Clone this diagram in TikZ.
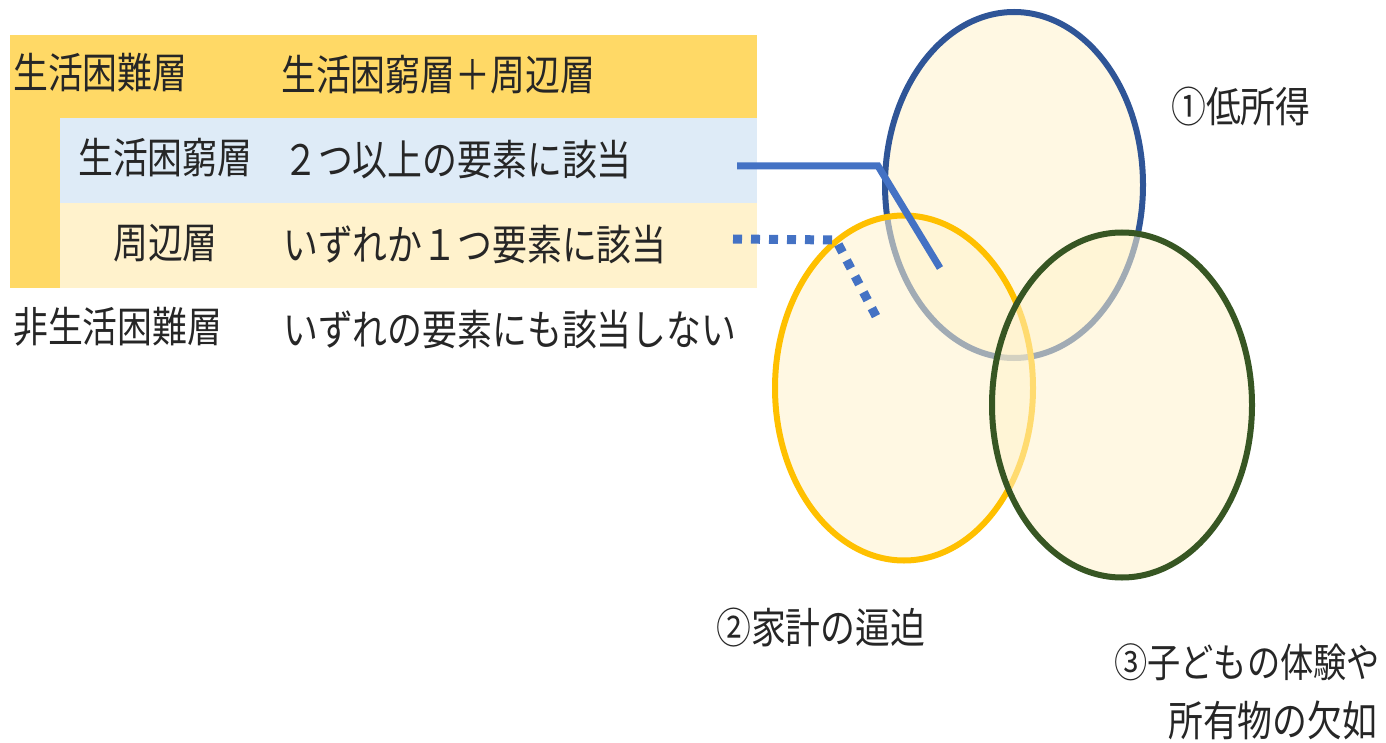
\documentclass[tikz,border=0pt]{standalone}
\usepackage{fontspec}
\usetikzlibrary{shapes.geometric}
\newfontfamily\jp[FakeStretch=0.83]{Noto Sans CJK JP}
\definecolor{gold}{HTML}{FFD966}
\definecolor{lightblue}{HTML}{DEEBF7}
\definecolor{cream}{HTML}{FFF2CC}
\definecolor{linkblue}{HTML}{4472C4}
\definecolor{circblue}{HTML}{2F5597}
\definecolor{circyellow}{HTML}{FFC000}
\definecolor{circgreen}{HTML}{375623}
\begin{document}
\begin{tikzpicture}[x=1pt,y=-1pt,
  lbl/.style={anchor=west,inner sep=0pt,font=\jp\fontsize{42}{48}\selectfont,text=black!85},
  circ/.style={ellipse,line width=6pt,fill=cream,fill opacity=0.55,draw opacity=1,inner sep=0pt},
  conn/.style={draw=linkblue,line width=7pt}]
\useasboundingbox (0,0) rectangle (1386,743);
% table bands
\fill[gold] (10,35) rectangle (757,118);
\fill[gold] (10,118) rectangle (60,288);
\fill[lightblue] (60,118) rectangle (757,203);
\fill[cream] (60,203) rectangle (757,288);
% table texts
\node[lbl] (t1a) at (13,73) {生活困難層};
\node[lbl] (t1b) at (281,75) {生活困窮層＋周辺層};
\node[lbl] (t2a) at (78,158) {生活困窮層};
\node[lbl] (t2b) at (283,160) {２つ以上の要素に該当};
\node[lbl] (t3a) at (113,243) {周辺層};
\node[lbl] (t3b) at (283,245) {いずれか１つ要素に該当};
\node[lbl] (t4a) at (13,327) {非生活困難層};
\node[lbl] (t4b) at (283,330) {いずれの要素にも該当しない};
% circles
\node[circ,draw=circblue,minimum width=258pt,minimum height=346pt] (c1) at (1014,185) {};
\node[circ,draw=circyellow,minimum width=258pt,minimum height=345pt] (c2) at (904,388) {};
\node[circ,draw=circgreen,minimum width=260pt,minimum height=345pt] (c3) at (1122,405) {};
% connectors
\coordinate (s1) at (737,166);
\coordinate (k1) at (878,166);
\coordinate (e1) at (940,268);
\coordinate (s2) at (733,239);
\coordinate (k2) at (836,240);
\coordinate (e2) at (878,320);
\draw[conn] (s1) -- (k1) -- (e1);
\draw[conn,line width=9pt,dash pattern=on 9pt off 9pt] (s2) -- (k2) -- (e2);
% circle labels
\node[lbl] (l1) at (1171,107) {①低所得};
\node[lbl] (l2) at (716,628) {②家計の逼迫};
\node[lbl,font=\jp\fontsize{40}{48}\selectfont] (l3) at (1114,662) {③子どもの体験や};
\node[lbl] (l4) at (1168,720) {所有物の欠如};
\end{tikzpicture}
\end{document}
